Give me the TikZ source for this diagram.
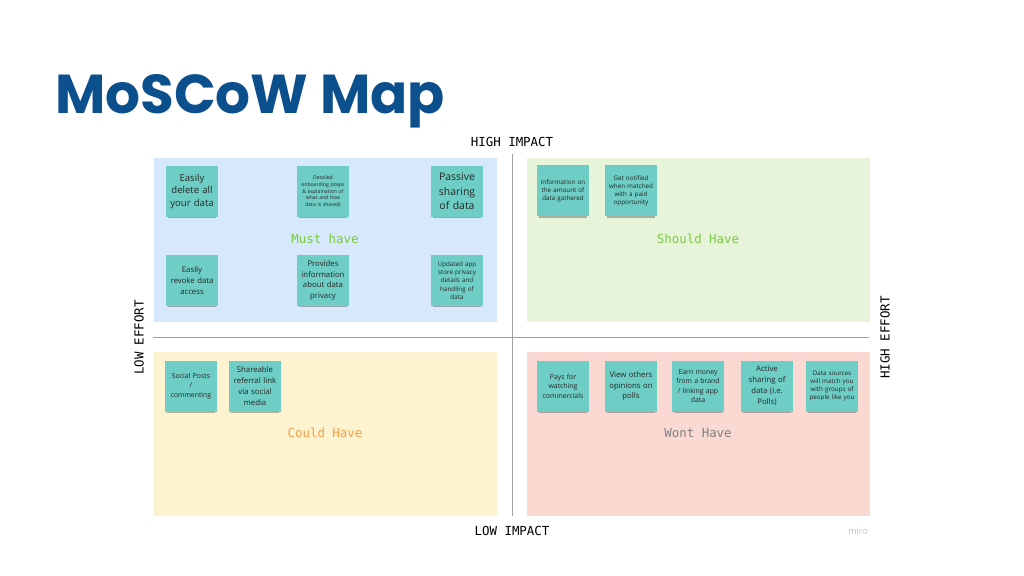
\documentclass[tikz,border=0pt]{standalone}
\usepackage{fontspec}
\setmainfont{Open Sans}
\newfontfamily\titlefont{Poppins}
\newfontfamily\labelmono{DejaVu Sans Mono}
\usetikzlibrary{shadows}
\hyphenpenalty=10000
\exhyphenpenalty=10000
\definecolor{titlec}{RGB}{11,79,140}
\definecolor{mustc}{RGB}{214,232,249}
\definecolor{shouldc}{RGB}{231,244,218}
\definecolor{couldc}{RGB}{253,243,209}
\definecolor{wontc}{RGB}{249,217,210}
\definecolor{stickyc}{RGB}{110,205,196}
\definecolor{greenlab}{RGB}{123,200,71}
\definecolor{orangelab}{RGB}{244,160,75}
\definecolor{graylab}{RGB}{128,128,128}
\definecolor{axisc}{RGB}{160,160,160}
\definecolor{miroc}{RGB}{190,190,200}
\tikzset{
  quad/.style={draw=none, minimum width=343bp, minimum height=164bp, inner sep=0pt},
  sticky/.style={fill=stickyc, minimum width=52bp, minimum height=51bp, text width=50bp,
    align=center, inner sep=0pt, text=black!85,
    drop shadow={shadow xshift=0bp, shadow yshift=-3bp, shadow scale=0.94, opacity=0.28, fill=black}},
  big/.style={font=\fontsize{9.6}{13}\selectfont},
  bigger/.style={font=\fontsize{10.5}{14.5}\selectfont},
  mid/.style={font=\fontsize{7.8}{11}\selectfont},
  small/.style={font=\fontsize{6.3}{8.2}\selectfont},
  smallw/.style={font=\fontsize{6.9}{9.5}\selectfont},
  tiny/.style={font=\fontsize{5.1}{6.9}\selectfont},
  qlabel/.style={font=\labelmono\fontsize{12.5}{14}\selectfont, inner sep=0pt},
  axislab/.style={font=\labelmono\fontsize{12.5}{14}\selectfont, inner sep=0pt, text=black},
  axisline/.style={draw=axisc, line width=0.8bp}
}
\begin{document}
\begin{tikzpicture}[x=1bp,y=-1bp]
\useasboundingbox (0,0) rectangle (1024,576);
\fill[white] (0,0) rectangle (1024,576);

% title
\node[anchor=base west, inner sep=0pt, text=titlec, font=\titlefont\bfseries\fontsize{55}{58}\selectfont] (title) at (55,114) {MoSCoW Map};

% quadrants
\node[quad, fill=mustc] (must) at (325.5,240) {};
\node[quad, fill=shouldc] (should) at (698,240) {};
\node[quad, fill=couldc] (could) at (325.5,434) {};
\node[quad, fill=wontc] (wont) at (698,434) {};

% axes
\coordinate (vt) at (512,154);
\coordinate (vb) at (512,516);
\coordinate (hl) at (153,337.5);
\coordinate (hr) at (869,337.5);
\draw[axisline] (vt) -- (vb);
\draw[axisline] (hl) -- (hr);

\node[axislab] (hi) at (512,142) {HIGH IMPACT};
\node[axislab] (li) at (512,531) {LOW IMPACT};
\node[axislab, rotate=90] (le) at (139,337.5) {LOW EFFORT};
\node[axislab, rotate=90] (he) at (885,337.5) {HIGH EFFORT};
\node[inner sep=0pt, text=miroc, font=\fontsize{9}{10}\selectfont] (miro) at (858,531) {miro};

% quadrant labels
\node[qlabel, text=greenlab] (mustlab) at (325,239) {Must have};
\node[qlabel, text=greenlab] (shouldlab) at (698,239) {Should Have};
\node[qlabel, text=orangelab] (couldlab) at (325,433) {Could Have};
\node[qlabel, text=graylab] (wontlab) at (698,433) {Wont Have};

% must stickies
\node[sticky, big] (m1) at (192,191.5) {Easily\\delete all\\your data};
\node[sticky, tiny] (m2) at (323,191.5) {Detailed\\onboarding (steps\\\& explaination of\\what and how\\data is shared)};
\node[sticky, bigger] (m3) at (457,191.5) {Passive\\sharing\\of data};
\node[sticky, mid] (m4) at (192,280.5) {Easily\\revoke data\\access};
\node[sticky, mid] (m5) at (323,280.5) {Provides\\information\\about data\\privacy};
\node[sticky, small] (m6) at (457,280.5) {Updated app\\store privacy\\details and\\handling of\\data};

% should stickies
\node[sticky, small] (s1) at (563,191) {Information on\\the amount of\\data gathered};
\node[sticky, small] (s2) at (631,191) {Get notified\\when matched\\with a paid\\opportunity};

% could stickies
\node[sticky, smallw] (c1) at (191,386) {Social Posts\\/\\commenting};
\node[sticky, mid] (c2) at (255,386) {Shareable\\referral link\\via social\\media};

% wont stickies
\node[sticky, smallw] (w1) at (563,386) {Pays for\\watching\\commercials};
\node[sticky, mid] (w2) at (631,386) {View others\\opinions on\\polls};
\node[sticky, smallw] (w3) at (698,386) {Earn money\\from a brand\\/ linking app\\data};
\node[sticky, mid] (w4) at (767,386) {Active\\sharing of\\data (i.e.\\Polls)};
\node[sticky, small] (w5) at (832,386) {Data sources\\will match you\\with groups of\\people like you};
\end{tikzpicture}
\end{document}
